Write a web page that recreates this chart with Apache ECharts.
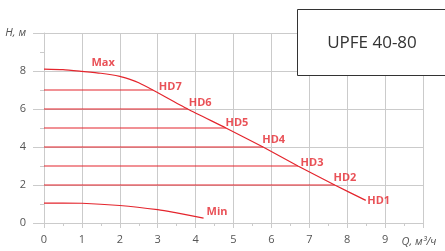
<!DOCTYPE html>
<html>
<head>
<meta charset="utf-8">
<script src="https://cdn.jsdelivr.net/npm/echarts@6/dist/echarts.min.js"></script>
<style>
  html, body { margin: 0; padding: 0; background: #fff; }
</style>
</head>
<body>
<div id="main" style="width:445px;height:251px;"></div>
<script>
// кривая Max (Q, H)
var qMax = [0, 0.5, 1, 1.5, 2, 2.25, 2.5, 2.87, 3.79, 4.8, 5.78, 6.7, 7.67, 8.49];
var hMax = [8.1, 8.07, 7.98, 7.88, 7.72, 7.57, 7.38, 7.0, 6, 5, 4, 3, 2, 1.19];
// кривая Min
var qMin = [0, 0.5, 1, 2, 3, 3.5, 4.21];
var hMin = [1.05, 1.05, 1.04, 0.92, 0.7, 0.53, 0.26];
// горизонтальные линии HD7..HD2
var hdLevels = [7, 6, 5, 4, 3, 2];
var hdEnds = [2.87, 3.79, 4.8, 5.78, 6.7, 7.67];
// подписи
var labelNames = ["Max", "HD7", "HD6", "HD5", "HD4", "HD3", "HD2", "HD1", "Min"];
var labelQ = [1.25, 3.03, 3.82, 4.79, 5.76, 6.77, 7.64, 8.53, 4.29];
var labelH = [8.45, 7.19, 6.33, 5.28, 4.35, 3.19, 2.38, 1.19, 0.61];
var xTicks = [0, 1, 2, 3, 4, 5, 6, 7, 8, 9];
var yTicks = [0, 2, 4, 6, 8];

var RED = "#e4252d";
var GRID = "#cbcbcb";

function pairs(a, b) {
  return a.map(function (v, i) { return [v, b[i]]; });
}

var series = [
  {
    type: "line", data: pairs(qMax, hMax), smooth: 0.2, symbol: "none",
    lineStyle: { color: RED, width: 1.2 }, z: 3
  },
  {
    type: "line", data: pairs(qMin, hMin), smooth: 0.3, symbol: "none",
    lineStyle: { color: RED, width: 1.2 }, z: 3
  }
];
hdLevels.forEach(function (h, i) {
  series.push({
    type: "line", data: [[0, h], [hdEnds[i], h]], symbol: "none",
    lineStyle: { color: RED, width: 1.2 }, z: 3
  });
});
series.push({
  type: "scatter", symbolSize: 0, z: 4,
  data: labelNames.map(function (n, i) { return { value: [labelQ[i], labelH[i]], name: n }; }),
  label: {
    show: true, position: "right", distance: 0, formatter: "{b}",
    color: RED, fontSize: 11, fontWeight: "bold", fontFamily: "Open Sans"
  }
});

var myChart = echarts.init(document.getElementById("main"));
var option = {
  animation: false,
  grid: { left: 44, right: 22, top: 33, bottom: 28 },
  xAxis: {
    type: "value", min: 0, max: 10, interval: 1,
    name: "Q, м³/ч", nameLocation: "end", nameGap: -4,
    nameTextStyle: {
      fontStyle: "italic", color: "#555", fontSize: 11, fontFamily: "Open Sans",
      align: "center", verticalAlign: "top", padding: [13, 0, 0, 0]
    },
    axisLine: { show: true, lineStyle: { color: GRID } },
    axisTick: { show: true, length: 5, lineStyle: { color: GRID } },
    minorTick: { show: true, splitNumber: 2, length: 3, lineStyle: { color: GRID } },
    splitLine: { show: true, lineStyle: { color: GRID, width: 1 } },
    axisLabel: {
      color: "#555", fontSize: 11, fontFamily: "Open Sans", margin: 11,
      formatter: function (v) { return xTicks.indexOf(v) >= 0 ? String(v) : ""; }
    }
  },
  yAxis: {
    type: "value", min: 0, max: 10, interval: 2,
    name: "H, м", nameLocation: "end", nameGap: 0,
    nameTextStyle: {
      fontStyle: "italic", color: "#555", fontSize: 11, fontFamily: "Open Sans",
      align: "right", verticalAlign: "middle", padding: [0, 18, 0, 0]
    },
    axisLine: { show: true, lineStyle: { color: GRID } },
    axisTick: { show: true, length: 11, lineStyle: { color: GRID } },
    minorTick: { show: true, splitNumber: 2, length: 4, lineStyle: { color: GRID } },
    splitLine: { show: true, lineStyle: { color: GRID, width: 1 } },
    axisLabel: {
      color: "#555", fontSize: 11, fontFamily: "Open Sans", margin: 18,
      formatter: function (v) { return yTicks.indexOf(v) >= 0 ? String(v) : ""; }
    }
  },
  graphic: [
    {
      type: "rect", z: 10,
      shape: { x: 297.5, y: 9.5, width: 160, height: 66 },
      style: { fill: "#fff", stroke: "#333", lineWidth: 1 }
    },
    {
      type: "text", z: 11, x: 372, y: 43,
      style: {
        text: "UPFE 40-80", fill: "#333", fontSize: 17, fontFamily: "Open Sans",
        align: "center", verticalAlign: "middle"
      }
    }
  ],
  series: series
};
myChart.setOption(option);
</script>
</body>
</html>
